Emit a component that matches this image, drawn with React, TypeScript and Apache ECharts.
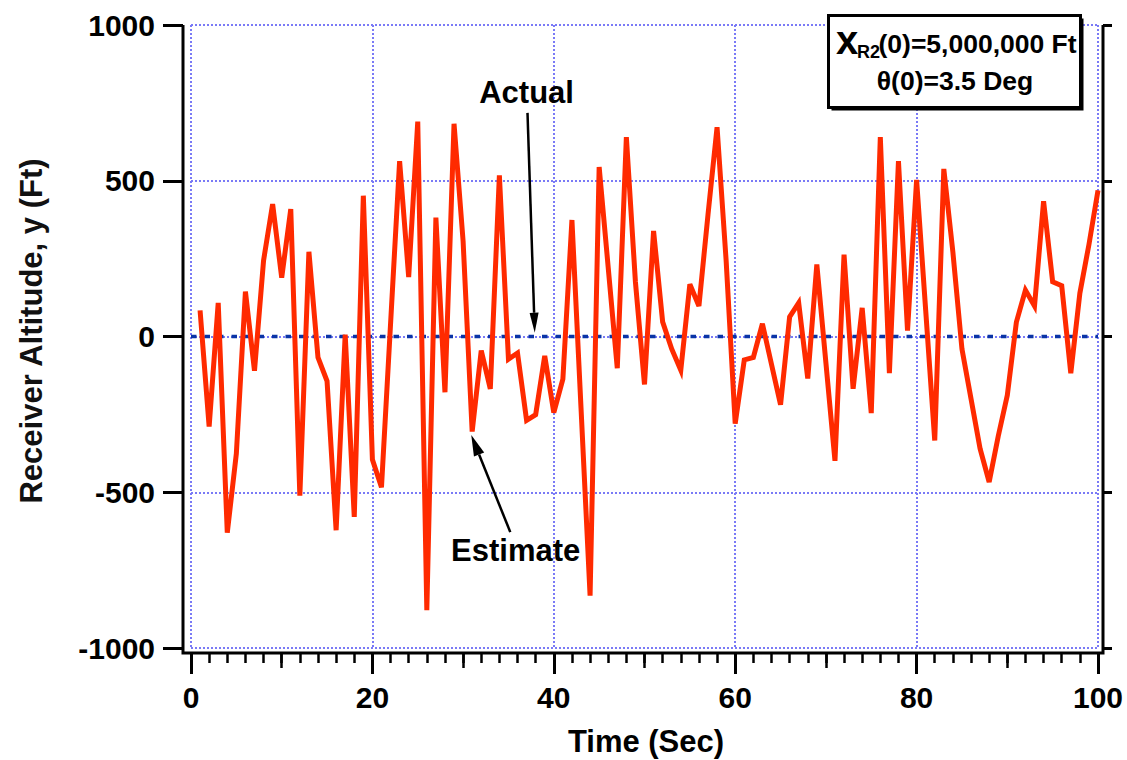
import React, { useEffect, useRef } from 'react';
import * as echarts from 'echarts';

// ---------------- data ----------------
const timeSec = [
  1, 2, 3, 4, 5, 6, 7, 8, 9, 10,
  11, 12, 13, 14, 15, 16, 17, 18, 19, 20,
  21, 22, 23, 24, 25, 26, 27, 28, 29, 30,
  31, 32, 33, 34, 35, 36, 37, 38, 39, 40,
  41, 42, 43, 44, 45, 46, 47, 48, 49, 50,
  51, 52, 53, 54, 55, 56, 57, 58, 59, 60,
  61, 62, 63, 64, 65, 66, 67, 68, 69, 70,
  71, 72, 73, 74, 75, 76, 77, 78, 79, 80,
  81, 82, 83, 84, 85, 86, 87, 88, 89, 90,
  91, 92, 93, 94, 95, 96, 97, 98, 99, 100,
];

const estimateAlt = [
  84, -289, 108, -630, -376, 144, -110, 244, 425, 189,
  409, -511, 272, -67, -143, -622, 6, -579, 452, -395,
  -484, 40, 563, 191, 690, -879, 382, -179, 683, 306,
  -305, -45, -168, 517, -73, -53, -269, -251, -62, -244,
  -137, 374, -229, -832, 544, 221, -102, 640, 175, -154,
  339, 47, -40, -108, 168, 98, 391, 672, 244, -280,
  -75, -67, 41, -89, -219, 63, 108, -135, 231, -84,
  -399, 263, -168, 92, -246, 640, -118, 563, 19, 503,
  85, -334, 538, 271, -40, -200, -360, -467, -320, -189,
  46, 149, 98, 434, 176, 163, -118, 139, 295, 469,
];

const actualTime = [0, 100];
const actualAlt = [0, 0];

const xTickValues = [0, 20, 40, 60, 80, 100];
const yTickValues = [-1000, -500, 0, 500, 1000];

// annotation anchors (data space)
const actualArrowTail = [37.1, 718];
const actualArrowTip = [37.9, 12];
const estimateArrowTail = [35.2, -628];
const estimateArrowTip = [30.9, -316];
const actualLabelPos = [37.0, 782];
const estimateLabelPos = [35.8, -688];

const FONT = '"Liberation Sans", Arial, Helvetica, sans-serif';

export default function App() {
  const ref = useRef<HTMLDivElement>(null);

  useEffect(() => {
    if (!ref.current) return;
    const chart = echarts.init(ref.current, undefined, { renderer: 'svg' });

    const xMin = xTickValues[0];
    const xMax = xTickValues[xTickValues.length - 1];
    const xInt = xTickValues[1] - xTickValues[0];
    const yMin = yTickValues[0];
    const yMax = yTickValues[yTickValues.length - 1];
    const yInt = yTickValues[1] - yTickValues[0];

    const gridLine = { show: true, lineStyle: { color: '#7a7af6', width: 2, type: [2, 2] } };
    const labelStyle = { fontFamily: FONT, fontWeight: 'bold', fontSize: 30, color: '#000' };

    chart.setOption({
      animation: false,
      backgroundColor: '#fff',
      grid: { left: 191, right: 29, top: 25, bottom: 112, containLabel: false },
      xAxis: [
        {
          type: 'value', min: xMin, max: xMax, interval: xInt, position: 'bottom', offset: 5,
          axisLine: { show: false, onZero: false },
          axisTick: { show: true, length: 21, lineStyle: { color: '#000', width: 3 } },
          minorTick: { show: true, splitNumber: 10, length: 10, lineStyle: { color: '#000', width: 2.5 } },
          axisLabel: { ...labelStyle, margin: 29, formatter: (v: number) => String(v) },
          splitLine: gridLine,
        },
        {
          type: 'value', min: xMin, max: xMax, interval: xInt / 2, position: 'bottom', offset: 5,
          axisLine: { show: false, onZero: false },
          axisTick: { show: true, length: 15, lineStyle: { color: '#000', width: 2.5 } },
          axisLabel: { show: false },
          splitLine: { show: false },
        },
      ],
      yAxis: [
        {
          type: 'value', min: yMin, max: yMax, interval: yInt, position: 'left', offset: 8,
          axisLine: { show: false, onZero: false },
          axisTick: { show: true, length: 20, lineStyle: { color: '#000', width: 3 } },
          axisLabel: { ...labelStyle, margin: 28, formatter: (v: number) => String(v) },
          splitLine: gridLine,
        },
        {
          type: 'value', min: yMin, max: yMax, interval: yInt, position: 'right', offset: 5,
          axisLine: { show: false, onZero: false },
          axisTick: { show: true, length: 9, lineStyle: { color: '#000', width: 3 } },
          axisLabel: { show: false },
          splitLine: { show: false },
        },
      ],
      series: [
        {
          type: 'line', name: 'Actual', xAxisIndex: 0, yAxisIndex: 0,
          data: actualTime.map((t, i) => [t, actualAlt[i]]),
          showSymbol: false, symbol: 'none',
          lineStyle: { color: '#0a34a6', width: 3.5, type: [5.5, 8] },
          z: 2,
        },
        {
          type: 'line', name: 'Estimate', xAxisIndex: 0, yAxisIndex: 0,
          data: timeSec.map((t, i) => [t, estimateAlt[i]]),
          showSymbol: false, symbol: 'none',
          lineStyle: { color: '#ff2a00', width: 5, join: 'miter' },
          z: 3,
        },
      ],
    });

    const px = (p: number[]) => chart.convertToPixel({ gridIndex: 0 }, p) as number[];
    const bl = px([xMin, yMin]);
    const tr = px([xMax, yMax]);
    const L = bl[0] - 8;
    const B = bl[1] + 5;
    const R = tr[0] + 5;
    const T = tr[1];

    const arrow = (tailD: number[], tipD: number[], headLen: number, headW: number) => {
      const a = px(tailD);
      const b = px(tipD);
      const dx = b[0] - a[0];
      const dy = b[1] - a[1];
      const len = Math.sqrt(dx * dx + dy * dy);
      const ux = dx / len;
      const uy = dy / len;
      const base = [b[0] - ux * headLen, b[1] - uy * headLen];
      const nx = -uy * headW / 2;
      const ny = ux * headW / 2;
      return [
        { type: 'line', shape: { x1: a[0], y1: a[1], x2: base[0], y2: base[1] }, style: { stroke: '#000', lineWidth: 2.5 }, z: 20 },
        { type: 'polygon', shape: { points: [[b[0], b[1]], [base[0] + nx, base[1] + ny], [base[0] - nx, base[1] - ny]] }, style: { fill: '#000' }, z: 20 },
      ];
    };

    const aLab = px(actualLabelPos);
    const eLab = px(estimateLabelPos);
    const annoText = (p: number[], s: string) => ({
      type: 'text', x: p[0], y: p[1], z: 21,
      style: { text: s, fontFamily: FONT, fontWeight: 'bold', fontSize: 31, fill: '#000', align: 'center', verticalAlign: 'middle' },
    });

    chart.setOption({
      graphic: [
        // axes frame
        { type: 'polyline', shape: { points: [[L, T], [L, B], [R, B], [R, T]] }, style: { stroke: '#000', lineWidth: 3, fill: null }, z: 10 },
        ...arrow(actualArrowTail, actualArrowTip, 20, 9),
        ...arrow(estimateArrowTail, estimateArrowTip, 21, 11),
        annoText(aLab, 'Actual'),
        annoText(eLab, 'Estimate'),
        // axis titles
        {
          type: 'text', x: (L + R) / 2 + 3, y: 741, z: 21,
          style: { text: 'Time (Sec)', fontFamily: FONT, fontWeight: 'bold', fontSize: 31, fill: '#000', align: 'center', verticalAlign: 'middle' },
        },
        {
          type: 'text', x: 31, y: 331, rotation: Math.PI / 2, z: 21,
          style: { text: 'Receiver Altitude, y (Ft)', fontFamily: FONT, fontWeight: 'bold', fontSize: 31, fill: '#111', align: 'center', verticalAlign: 'middle' },
        },
        // info box
        { type: 'rect', shape: { x: 831.5, y: 18.5, width: 252, height: 92 }, style: { fill: '#000' }, z: 30 },
        { type: 'rect', shape: { x: 828.5, y: 15.5, width: 252, height: 92 }, style: { fill: '#fff', stroke: '#000', lineWidth: 3 }, z: 31 },
        {
          type: 'text', x: 836, y: 39.5, z: 32,
          style: { text: 'x', fontFamily: FONT, fontWeight: 'bold', fontSize: 40, fill: '#000', align: 'left', verticalAlign: 'middle' },
        },
        {
          type: 'text', x: 857, y: 52, z: 32,
          style: { text: 'R2', fontFamily: FONT, fontWeight: 'bold', fontSize: 18, fill: '#000', align: 'left', verticalAlign: 'middle' },
        },
        {
          type: 'text', x: 878.5, y: 44, z: 32,
          style: { text: '(0)=5,000,000 Ft', fontFamily: FONT, fontWeight: 'bold', fontSize: 26.5, fill: '#000', align: 'left', verticalAlign: 'middle' },
        },
        {
          type: 'text', x: 955, y: 81, z: 32,
          style: { text: 'θ(0)=3.5 Deg', fontFamily: FONT, fontWeight: 'bold', fontSize: 26.5, fill: '#000', align: 'center', verticalAlign: 'middle' },
        },
      ],
    });

    return () => chart.dispose();
  }, []);

  return (
    <div
      ref={ref}
      style={{ position: 'fixed', left: 0, top: 0, width: 1127, height: 760, background: '#fff' }}
    />
  );
}
